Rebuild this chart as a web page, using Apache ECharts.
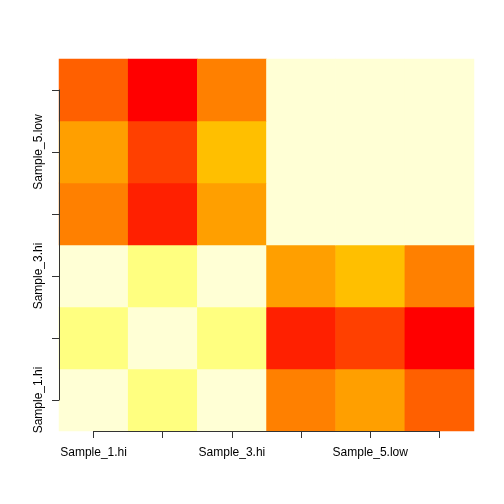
<!DOCTYPE html>
<html>
<head>
<meta charset="utf-8">
<script src="https://cdn.jsdelivr.net/npm/echarts@6/dist/echarts.min.js"></script>
<style>html,body{margin:0;padding:0;background:#fff}#c{width:504px;height:504px}</style>
</head>
<body>
<div id="c"></div>
<script>
// Categories (x: columns left->right, y: rows bottom->top)
var xCategories = ['Sample_1.hi','Sample_2.hi','Sample_3.hi','Sample_4.low','Sample_5.low','Sample_6.low'];
var yCategories = ['Sample_1.hi','Sample_2.hi','Sample_3.hi','Sample_4.low','Sample_5.low','Sample_6.low'];
// Colour bin levels (1 = red ... 12 = pale), one array per row, bottom to top
var row1 = [12, 11, 12, 5, 6, 4];
var row2 = [11, 12, 11, 2, 3, 1];
var row3 = [12, 11, 12, 6, 7, 5];
var row4 = [5, 2, 6, 12, 12, 12];
var row5 = [6, 3, 7, 12, 12, 12];
var row6 = [4, 1, 5, 12, 12, 12];
// R heat.colors(12)
var palette = ['#FF0000','#FF2000','#FF4000','#FF6000','#FF8000','#FF9F00','#FFBF00','#FFDF00','#FFFF00','#FFFF2A','#FFFF80','#FFFFD5'];

var rows = [row1, row2, row3, row4, row5, row6];
var data = [];
rows.forEach(function (r, yi) {
  r.forEach(function (v, xi) { data.push([xi, yi, v]); });
});
var pieces = palette.map(function (c, i) { return { value: i + 1, color: c }; });

var chart = echarts.init(document.getElementById('c'), null, { renderer: 'canvas' });
var axisColor = '#333';
chart.setOption({
  animation: false,
  backgroundColor: '#ffffff',
  grid: [
    { left: 59, top: 59, width: 415, height: 372 },
    { left: 93.58, top: 90, width: 345.83, height: 310 }
  ],
  xAxis: [
    { type: 'category', gridIndex: 0, data: xCategories, show: false, boundaryGap: true },
    { type: 'category', gridIndex: 1, data: xCategories, boundaryGap: false, position: 'bottom', offset: 31,
      axisLine: { show: true, lineStyle: { color: axisColor, width: 1 } },
      axisTick: { show: true, length: 7, inside: false, alignWithLabel: true, interval: 0, lineStyle: { color: axisColor } },
      axisLabel: { show: true, interval: 1, margin: 16, color: '#000', fontFamily: 'Liberation Sans, Arial, sans-serif', fontSize: 12 },
      splitLine: { show: false }, z: 10 }
  ],
  yAxis: [
    { type: 'category', gridIndex: 0, data: yCategories, show: false, boundaryGap: true },
    { type: 'category', gridIndex: 1, data: yCategories, boundaryGap: false, position: 'left', offset: 34.58,
      axisLine: { show: true, lineStyle: { color: axisColor, width: 1 } },
      axisTick: { show: true, length: 7, interval: 0, lineStyle: { color: axisColor } },
      axisLabel: { show: true, interval: 1, rotate: 90, margin: 14, color: '#000', fontFamily: 'Liberation Sans, Arial, sans-serif', fontSize: 12 },
      splitLine: { show: false }, z: 10 }
  ],
  visualMap: {
    type: 'piecewise', show: false, dimension: 2, seriesIndex: 0, pieces: pieces
  },
  series: [{
    type: 'heatmap', xAxisIndex: 0, yAxisIndex: 0, data: data,
    itemStyle: { borderWidth: 0 },
    emphasis: { disabled: true }
  }]
});
</script>
</body>
</html>
